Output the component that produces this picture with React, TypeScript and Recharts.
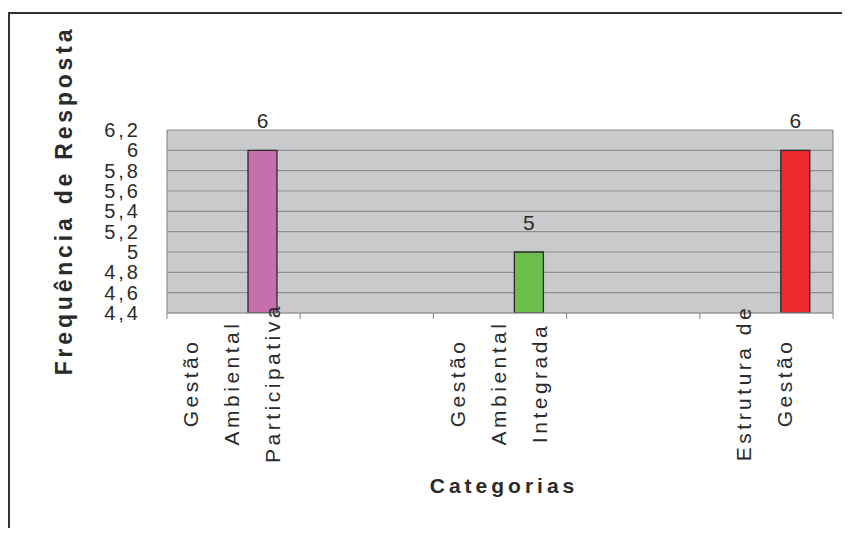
import React from "react";
import {
  BarChart,
  Bar,
  XAxis,
  YAxis,
  CartesianGrid,
  LabelList,
  Label,
  Cell,
} from "recharts";

// ---- data ----
const categories = [
  "Gestão\nAmbiental\nParticipativa",
  "",
  "Gestão\nAmbiental\nIntegrada",
  "",
  "Estrutura de\nGestão",
];
const frequencies: (number | null)[] = [6, null, 5, null, 6];
const barColors = ["#C56FAE", "#C56FAE", "#6DBF4B", "#6DBF4B", "#EC2B2F"];
const yTicks = [4.4, 4.6, 4.8, 5, 5.2, 5.4, 5.6, 5.8, 6, 6.2];

const data = categories.map((cat, i) => ({
  cat,
  empty1: null,
  empty2: null,
  freq: frequencies[i],
}));

const FONT = '"Liberation Sans", Arial, sans-serif';
const TEXT = "#2b2b2b";
const AXIS = "#9A9A9A";

const XTick = (props: any) => {
  const { x, y, payload, index, width } = props;
  const band = (width || 666) / categories.length;
  const lines = String(payload.value).split("\n").filter(Boolean);
  const n = lines.length;
  const isLast = index === categories.length - 1;
  return (
    <g>
      <line x1={x - band / 2} x2={x - band / 2} y1={y} y2={y + 6} stroke={AXIS} strokeWidth={1.2} />
      {isLast && (
        <line x1={x + band / 2} x2={x + band / 2} y1={y} y2={y + 6} stroke={AXIS} strokeWidth={1.2} />
      )}
      {lines.map((ln, i) => {
        const lx = x - 2 + (i - (n - 1) / 2) * 41;
        const ly = y + 70;
        return (
          <text
            key={i}
            x={lx}
            y={ly}
            transform={`rotate(-90 ${lx} ${ly})`}
            textAnchor="middle"
            dominantBaseline="central"
            fontSize={21}
            letterSpacing={3.5}
            fill={TEXT}
            fontFamily={FONT}
          >
            {ln}
          </text>
        );
      })}
    </g>
  );
};

const YTitle = (props: any) => {
  const vb = props.viewBox || { x: 0, y: 122, width: 159, height: 183 };
  const cx = vb.x + 56;
  const cy = vb.y + vb.height / 2 - 21;
  return (
    <text
      x={cx}
      y={cy}
      transform={`rotate(-90 ${cx} ${cy})`}
      textAnchor="middle"
      dominantBaseline="central"
      fontSize={23}
      fontWeight="bold"
      letterSpacing={3.8}
      fill={TEXT}
      fontFamily={FONT}
    >
      Frequência de Resposta
    </text>
  );
};

const XTitle = (props: any) => {
  const vb = props.viewBox || { x: 159, y: 305, width: 666, height: 223 };
  const cx = vb.x + vb.width / 2 + 4;
  const cy = vb.y + 180;
  return (
    <text
      x={cx}
      y={cy}
      textAnchor="middle"
      fontSize={21}
      fontWeight="bold"
      letterSpacing={4}
      fill={TEXT}
      fontFamily={FONT}
    >
      Categorias
    </text>
  );
};

export default function App() {
  return (
    <div
      style={{
        position: "relative",
        width: 834,
        height: 528,
        marginBottom: -8,
        overflow: "hidden",
        background: "#fff",
      }}
    >
      <div
        style={{
          position: "absolute",
          left: 0,
          top: 4,
          width: 900,
          height: 600,
          borderLeft: "2px solid #333",
          borderTop: "2px solid #333",
        }}
      />
      <BarChart
        width={834}
        height={528}
        data={data}
        margin={{ top: 122, right: 9, bottom: 0, left: 0 }}
        barGap={0}
        style={{ fontFamily: FONT, position: "relative" }}
      >
        <CartesianGrid
          fill="#C9CACC"
          stroke="#8F8F8F"
          strokeWidth={1.2}
          horizontalValues={yTicks}
          verticalCoordinatesGenerator={({ offset }: any) => [
            offset.left,
            offset.left + offset.width,
          ]}
        />
        <XAxis
          dataKey="cat"
          height={223}
          interval={0}
          tickLine={false}
          axisLine={{ stroke: AXIS, strokeWidth: 1.2 }}
          tickSize={0}
          tickMargin={0}
          tick={<XTick />}
        >
          <Label content={<XTitle />} />
        </XAxis>
        <YAxis
          width={159}
          domain={[4.4, 6.2]}
          ticks={yTicks}
          allowDataOverflow
          tickLine={false}
          axisLine={false}
          tickSize={0}
          tickMargin={26}
          interval={0}
          tick={{ fontSize: 20, fill: TEXT, fontFamily: FONT, letterSpacing: 3 }}
          tickFormatter={(v: number) => String(v).replace(".", ",")}
        >
          <Label content={<YTitle />} />
        </YAxis>
        <Bar dataKey="empty1" barSize={29} fill="none" isAnimationActive={false} />
        <Bar dataKey="empty2" barSize={29} fill="none" isAnimationActive={false} />
        <Bar
          dataKey="freq"
          barSize={29}
          stroke="#2a2a2a"
          strokeWidth={1.3}
          isAnimationActive={false}
        >
          {data.map((_, i) => (
            <Cell key={i} fill={barColors[i]} />
          ))}
          <LabelList
            dataKey="freq"
            position="top"
            offset={22}
            fontSize={21}
            fill={TEXT}
            fontFamily={FONT}
          />
        </Bar>
      </BarChart>
    </div>
  );
}
